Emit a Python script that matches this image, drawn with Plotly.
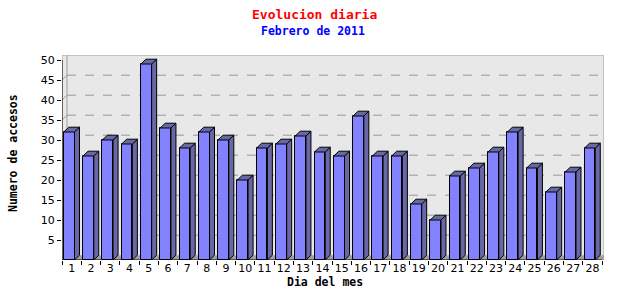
import plotly.graph_objects as go

days = list(range(1, 29))
visits = [32, 26, 30, 29, 49, 33, 28, 32, 30, 20, 28, 29, 31, 27,
          26, 36, 26, 26, 14, 10, 21, 23, 27, 32, 23, 17, 22, 28]
y_ticks = [5, 10, 15, 20, 25, 30, 35, 40, 45, 50]
grid_vals = [5, 10, 15, 20, 25, 30, 35, 40, 45]

title = "Evolucion diaria"
subtitle = "Febrero de 2011"
x_title = "Dia del mes"
y_title = "Numero de accesos"

# geometry (in data units)
DX = 0.259   # 3D depth, horizontal
DY = 1.2     # 3D depth, vertical
BW = 0.555   # front face width
XMAX = 28.6
YMAX = 51.25

FRONT = "#8282FF"
SIDE = "#6868A6"
WALL = "#E8E8E8"
FRAME = "#A0A0A0"
FLOOR = "#A0A0A0"

fig = go.Figure()

# front faces
fig.add_trace(go.Bar(
    x=days, y=visits, width=BW, offset=-(BW + DX) / 2,
    marker=dict(color=FRONT, line=dict(color="black", width=1)),
    hoverinfo="skip", showlegend=False))

# side and top faces
sx, sy, tx, ty = [], [], [], []
for d, v in zip(days, visits):
    xl = d - (BW + DX) / 2
    xr = xl + BW
    sx += [xr, xr + DX, xr + DX, xr, xr, None]
    sy += [0, DY, v + DY, v, 0, None]
    tx += [xl, xl + DX, xr + DX, xr, xl, None]
    ty += [v, v + DY, v + DY, v, v, None]
fig.add_trace(go.Scatter(x=sx, y=sy, mode="lines", fill="toself", fillcolor=SIDE,
                         line=dict(color="black", width=1), hoverinfo="skip", showlegend=False))
fig.add_trace(go.Scatter(x=tx, y=ty, mode="lines", fill="toself", fillcolor=SIDE,
                         line=dict(color="black", width=1), hoverinfo="skip", showlegend=False))

shapes = []
# back wall
shapes.append(dict(type="rect", xref="x", yref="y", x0=0.5, x1=XMAX, y0=0, y1=YMAX,
                   fillcolor=WALL, line=dict(color=FRAME, width=1), layer="below"))
# floor
shapes.append(dict(type="path", xref="x", yref="y",
                   path=f"M 0.5 0 L {0.5 + DX} {DY} L {XMAX} {DY} L {XMAX} 0 Z",
                   fillcolor=FLOOR, line=dict(width=0), layer="below"))
# dashed grid lines on back wall + left wall diagonals
for g in grid_vals:
    shapes.append(dict(type="line", xref="x", yref="y", x0=0.5 + DX, x1=XMAX, y0=g + DY, y1=g + DY,
                       line=dict(color="#999999", width=1, dash="dash"), layer="below"))
    shapes.append(dict(type="line", xref="x", yref="y", x0=0.5, x1=0.5 + DX, y0=g, y1=g + DY,
                       line=dict(color="#999999", width=1), layer="below"))
# left wall back edge
shapes.append(dict(type="line", xref="x", yref="y", x0=0.5 + DX, x1=0.5 + DX, y0=DY, y1=YMAX,
                   line=dict(color=FRAME, width=1), layer="below"))
# front axes
shapes.append(dict(type="line", xref="x", yref="y", x0=0.5, x1=0.5, y0=0, y1=50,
                   line=dict(color="black", width=1)))
shapes.append(dict(type="line", xref="x", yref="y", x0=0.5, x1=28.5, y0=0, y1=0,
                   line=dict(color="black", width=1)))

fig.update_layout(
    width=640, height=300,
    margin=dict(l=62, r=36, t=55, b=40),
    paper_bgcolor="white", plot_bgcolor="white",
    shapes=shapes,
    bargap=0,
    font=dict(family="DejaVu Sans", size=11, color="black"),
    xaxis=dict(range=[0.5, XMAX], tickvals=days, ticktext=[str(d) for d in days],
               showgrid=False, zeroline=False, showline=False, ticks="",
               tickfont=dict(family="DejaVu Sans", size=11),
               minor=dict(tick0=0.5, dtick=1, ticks="outside", ticklen=4, tickcolor="black", showgrid=False),
               fixedrange=True),
    yaxis=dict(range=[0, YMAX], tickvals=y_ticks, showgrid=False, zeroline=False, showline=False,
               ticks="outside", ticklen=4, tickcolor="black",
               tickfont=dict(family="DejaVu Sans", size=11), fixedrange=True),
    annotations=[
        dict(text="<b>" + title + "</b>", xref="paper", yref="paper", x=(314 - 62) / 542, y=(260 - 14) / 205,
             xanchor="center", yanchor="middle", showarrow=False,
             font=dict(family="DejaVu Sans Mono", size=13, color="#FF0000")),
        dict(text="<b>" + subtitle + "</b>", xref="paper", yref="paper", x=(313 - 62) / 542,
             y=(260 - 31) / 205, xanchor="center", yanchor="middle", showarrow=False,
             font=dict(family="DejaVu Sans Mono", size=11.5, color="#0000FF")),
        dict(text="<b>" + x_title + "</b>", xref="paper", yref="paper", x=(325 - 62) / 542,
             y=(260 - 282) / 205, xanchor="center", yanchor="middle", showarrow=False,
             font=dict(family="DejaVu Sans Mono", size=11.5, color="black")),
        dict(text="<b>" + y_title + "</b>", xref="paper", yref="paper", x=(13 - 62) / 542,
             y=(260 - 153) / 205, xanchor="center", yanchor="middle", showarrow=False, textangle=-90,
             font=dict(family="DejaVu Sans Mono", size=11.5, color="black")),
    ],
)

fig.write_html("out.html")
